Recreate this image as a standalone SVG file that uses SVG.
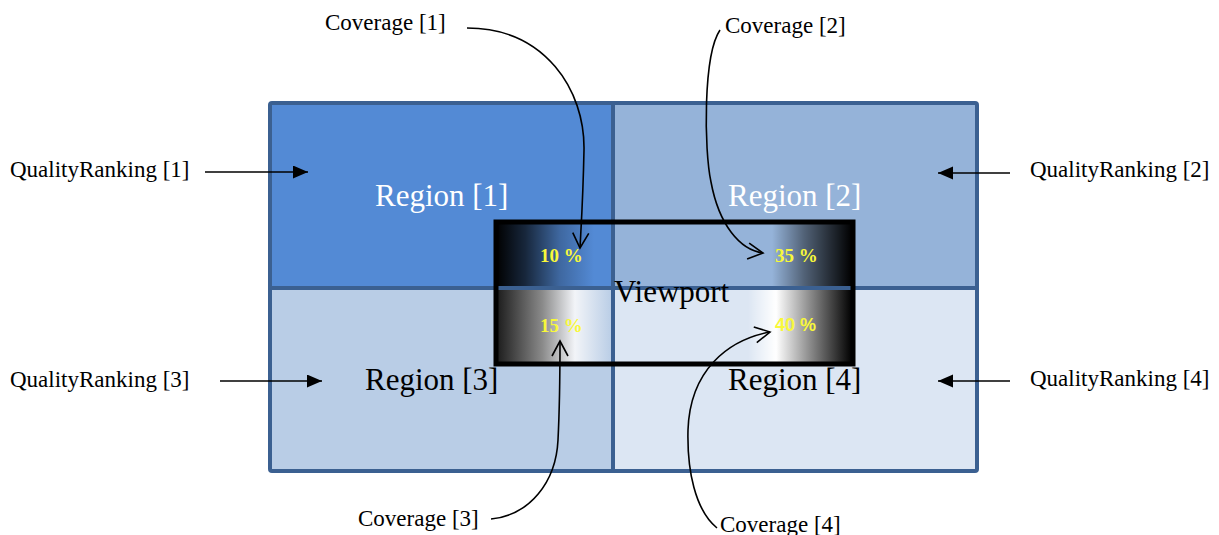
<svg xmlns="http://www.w3.org/2000/svg" width="1219" height="535" viewBox="0 0 1219 535">
<style>
.lbl{font-family:"Liberation Serif","Times New Roman",serif;font-size:23px;fill:#000}
.reg{font-family:"Liberation Serif","Times New Roman",serif;font-size:31px}
.pct{font-family:"Liberation Serif","Times New Roman",serif;font-size:19px;font-weight:bold;fill:#f8f83a}
.pcts{font-family:"Liberation Sans",Arial,sans-serif;font-size:18px;font-weight:bold;fill:#f8f83a}
.grid{fill:none;stroke:#3b6091;stroke-width:4}
.qa{stroke:#000;stroke-width:1.6;fill:none;marker-end:url(#solid)}
.ca{stroke:#000;stroke-width:1.6;fill:none;marker-end:url(#open)}
</style>
<defs>
<marker id="solid" markerUnits="userSpaceOnUse" markerWidth="16" markerHeight="14" refX="15" refY="6.5" orient="auto">
<path d="M0,0 L15,6.5 L0,13 z" fill="#000"/>
</marker>
<marker id="open" markerUnits="userSpaceOnUse" markerWidth="20" markerHeight="20" refX="16" refY="9" orient="auto">
<path d="M1,1 L16,9 L1,17" fill="none" stroke="#000" stroke-width="1.6"/>
</marker>
<linearGradient id="gTL" gradientUnits="userSpaceOnUse" x1="496" y1="0" x2="594" y2="0">
<stop offset="0" stop-color="#000" stop-opacity="1"/>
<stop offset="0.3" stop-color="#000" stop-opacity="0.72"/>
<stop offset="0.65" stop-color="#000" stop-opacity="0.25"/>
<stop offset="1" stop-color="#000" stop-opacity="0"/>
</linearGradient>
<linearGradient id="gBL" gradientUnits="userSpaceOnUse" x1="496" y1="0" x2="612" y2="0">
<stop offset="0" stop-color="#1a1a1a"/>
<stop offset="0.4" stop-color="#8a8a8a"/>
<stop offset="0.68" stop-color="#f2f4f8"/>
<stop offset="1" stop-color="#f2f4f8" stop-opacity="0"/>
</linearGradient>
<linearGradient id="gTR" gradientUnits="userSpaceOnUse" x1="772" y1="0" x2="852" y2="0">
<stop offset="0" stop-color="#000" stop-opacity="0"/>
<stop offset="0.4" stop-color="#000" stop-opacity="0.45"/>
<stop offset="1" stop-color="#000" stop-opacity="1"/>
</linearGradient>
<linearGradient id="gBR" gradientUnits="userSpaceOnUse" x1="748" y1="0" x2="852" y2="0">
<stop offset="0" stop-color="#fff" stop-opacity="0"/>
<stop offset="0.27" stop-color="#fff"/>
<stop offset="0.6" stop-color="#8a8a8a"/>
<stop offset="1" stop-color="#000"/>
</linearGradient>
</defs>

<g id="regions">
<g id="region1"><rect x="270" y="103" width="343" height="185" fill="#538ad5"/></g>
<g id="region2"><rect x="613" y="103" width="364" height="185" fill="#95b3d9"/></g>
<g id="region3"><rect x="270" y="288" width="343" height="183" fill="#b9cde6"/></g>
<g id="region4"><rect x="613" y="288" width="364" height="183" fill="#dce6f3"/></g>
</g>

<g id="viewport-shading">
<rect x="496" y="222" width="117" height="66" fill="url(#gTL)"/>
<rect x="496" y="288" width="117" height="76" fill="url(#gBL)"/>
<rect x="740" y="222" width="113" height="66" fill="url(#gTR)"/>
<rect x="740" y="288" width="113" height="76" fill="url(#gBR)"/>
</g>

<g id="grid">
<rect class="grid" x="270" y="103" width="707" height="368" rx="2"/>
<line class="grid" x1="613" y1="103" x2="613" y2="471"/>
<line class="grid" x1="270" y1="288" x2="977" y2="288"/>
</g>

<g id="viewport">
<rect x="496" y="222" width="357" height="142" fill="none" stroke="#000" stroke-width="5"/>
<text class="reg" x="614" y="302" fill="#000">Viewport</text>
</g>

<g id="region-labels">
<text class="reg" x="375" y="206" fill="#fff">Region [1]</text>
<text class="reg" x="728" y="206" fill="#fff">Region [2]</text>
<text class="reg" x="365" y="390" fill="#000">Region [3]</text>
<text class="reg" x="728" y="390" fill="#000">Region [4]</text>
</g>

<g id="percentages">
<text class="pct" x="540" y="262">10 %</text>
<text class="pct" x="775" y="262">35 %</text>
<text class="pct" x="540" y="332">15 %</text>
<text class="pcts" x="775" y="331">40 %</text>
</g>

<g id="quality-labels">
<g id="qr1"><text class="lbl" x="10" y="177">QualityRanking [1]</text></g>
<g id="qr2"><text class="lbl" x="1030" y="177">QualityRanking [2]</text></g>
<g id="qr3"><text class="lbl" x="10" y="387">QualityRanking [3]</text></g>
<g id="qr4"><text class="lbl" x="1030" y="386">QualityRanking [4]</text></g>
</g>

<g id="coverage-labels">
<g id="cov1"><text class="lbl" x="325" y="30">Coverage [1]</text></g>
<g id="cov2"><text class="lbl" x="725" y="33">Coverage [2]</text></g>
<g id="cov3"><text class="lbl" x="358" y="526">Coverage [3]</text></g>
<g id="cov4"><text class="lbl" x="720" y="532">Coverage [4]</text></g>
</g>

<g id="connectors">
<line class="qa" x1="205" y1="172" x2="308" y2="172"/>
<line class="qa" x1="1010" y1="173" x2="938" y2="173"/>
<line class="qa" x1="220" y1="381" x2="322" y2="381"/>
<line class="qa" x1="1010" y1="381" x2="938" y2="381"/>
<path class="ca" d="M467,28 C545,28 585,90 584,150 C583,200 581,228 580,248"/>
<path class="ca" d="M720,30 C703,55 704,150 711,182 C719,225 740,250 763,253"/>
<path class="ca" d="M491,519 C530,515 556,482 558,440 C560,400 560,370 560,341"/>
<path class="ca" d="M717,528 C695,510 687,470 688,430 C690,370 728,340 770,332"/>
</g>
</svg>
